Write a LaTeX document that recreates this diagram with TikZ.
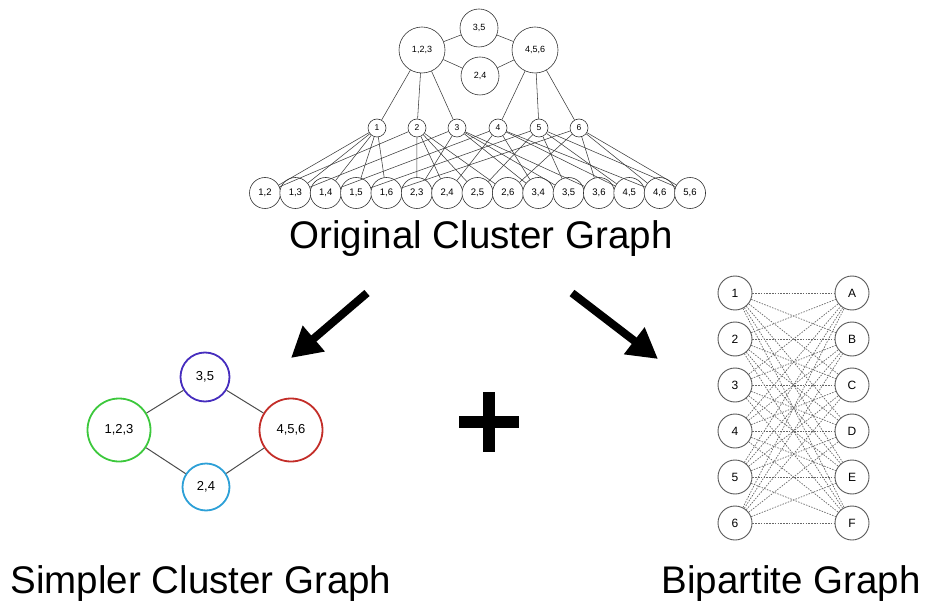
\documentclass[tikz,border=0pt]{standalone}
\usepackage{fontspec}
\setmainfont{Liberation Sans}
\usetikzlibrary{arrows.meta}
\definecolor{cgreen}{RGB}{60,200,60}
\definecolor{cpurple}{RGB}{70,45,190}
\definecolor{cred}{RGB}{195,45,40}
\definecolor{ccyan}{RGB}{45,160,215}
\definecolor{edgegray}{RGB}{60,60,60}
\tikzset{
  cl/.style={circle,draw=black!80,line width=0.6pt,inner sep=0pt,fill=white},
  bigcl/.style={cl,minimum size=46pt,font=\fontsize{9}{10}\selectfont},
  sepcl/.style={cl,minimum size=38pt,font=\fontsize{9}{10}\selectfont},
  singcl/.style={cl,minimum size=18pt,font=\fontsize{8.5}{9}\selectfont},
  paircl/.style={cl,minimum size=31pt,font=\fontsize{9.5}{10}\selectfont},
  link/.style={draw=edgegray,line width=0.55pt},
  simp/.style={circle,line width=1.8pt,inner sep=0pt,fill=white,font=\fontsize{13}{14}\selectfont},
  simplink/.style={draw=black!70,line width=1pt},
  bip/.style={circle,draw=black!65,line width=0.9pt,inner sep=0pt,minimum size=34pt,fill=white,font=\fontsize{12}{13}\selectfont},
  biplink/.style={draw=black!60,line width=0.7pt,dash pattern=on 1.5pt off 1.3pt},
  caption/.style={font=\fontsize{38.5}{41}\selectfont,anchor=base,inner sep=0pt},
  bigarrow/.style={line width=8pt,-{Triangle[length=30pt,width=32pt]}}
}
\begin{document}
\begin{tikzpicture}[x=1pt,y=-1pt]
\useasboundingbox (0,0) rectangle (925,601);

% ---- original cluster graph ----
% pair clusters
\foreach \lab [count=\k from 0] in {{1,2},{1,3},{1,4},{1,5},{1,6},{2,3},{2,4},{2,5},{2,6},{3,4},{3,5},{3,6},{4,5},{4,6},{5,6}}
  \node[paircl] (p\k) at ({265+30.36*\k},193) {\lab};
% singleton clusters
\foreach \i/\x in {1/377,2/417,3/457,4/498,5/539,6/579}
  \node[singcl] (s\i) at (\x,128) {\i};
% top clusters
\node[bigcl] (t123) at (422,50) {1,2,3};
\node[bigcl] (t456) at (535,50) {4,5,6};
\node[sepcl] (t35) at (479,28) {3,5};
\node[sepcl] (t24) at (480,76) {2,4};

% edges between top clusters
\draw[link] (t123) -- (t35);
\draw[link] (t123) -- (t24);
\draw[link] (t456) -- (t35);
\draw[link] (t456) -- (t24);
\foreach \i in {1,2,3} \draw[link] (t123) -- (s\i);
\foreach \i in {4,5,6} \draw[link] (t456) -- (s\i);
% singleton to pair edges
\foreach \i/\a/\b/\c/\d/\e in {1/0/1/2/3/4, 2/0/5/6/7/8, 3/1/5/9/10/11, 4/2/6/9/12/13, 5/3/7/10/12/14, 6/4/8/11/13/14}
  \foreach \p in {\a,\b,\c,\d,\e}
    \draw[link] (s\i) -- (p\p);

\node[caption] (cap1) at (481,249) {Original Cluster Graph};

% ---- arrows and plus ----
\coordinate (la) at (367,293);
\coordinate (lb) at (291,358);
\coordinate (ra) at (572,293);
\coordinate (rb) at (658,359);
\draw[bigarrow] (la) -- (lb);
\draw[bigarrow] (ra) -- (rb);
\fill (459,416) rectangle (519,428);
\fill (483,392) rectangle (495,452);

% ---- simpler cluster graph ----
\node[simp,draw=cgreen,minimum size=63pt] (g123) at (119,430) {1,2,3};
\node[simp,draw=cred,minimum size=63pt] (g456) at (291,430) {4,5,6};
\node[simp,draw=cpurple,minimum size=49pt] (g35) at (205,377) {3,5};
\node[simp,draw=ccyan,minimum size=47pt] (g24) at (206,487) {2,4};
\draw[simplink] (g123) -- (g35);
\draw[simplink] (g123) -- (g24);
\draw[simplink] (g456) -- (g35);
\draw[simplink] (g456) -- (g24);
\node[caption] (cap2) at (201,593) {Simpler Cluster Graph};

% ---- bipartite graph ----
\foreach \i [count=\k from 0] in {1,...,6}
  \node[bip] (l\i) at (735,{293+46*\k}) {\i};
\foreach \r [count=\k from 0] in {A,B,C,D,E,F}
  \node[bip] (r\r) at (852,{293+46*\k}) {\r};
\foreach \i in {1,...,6}
  \foreach \r in {A,B,C,D,E,F}
    \draw[biplink] (l\i) -- (r\r);
\node[caption] (cap3) at (791,593) {Bipartite Graph};
\end{tikzpicture}
\end{document}
